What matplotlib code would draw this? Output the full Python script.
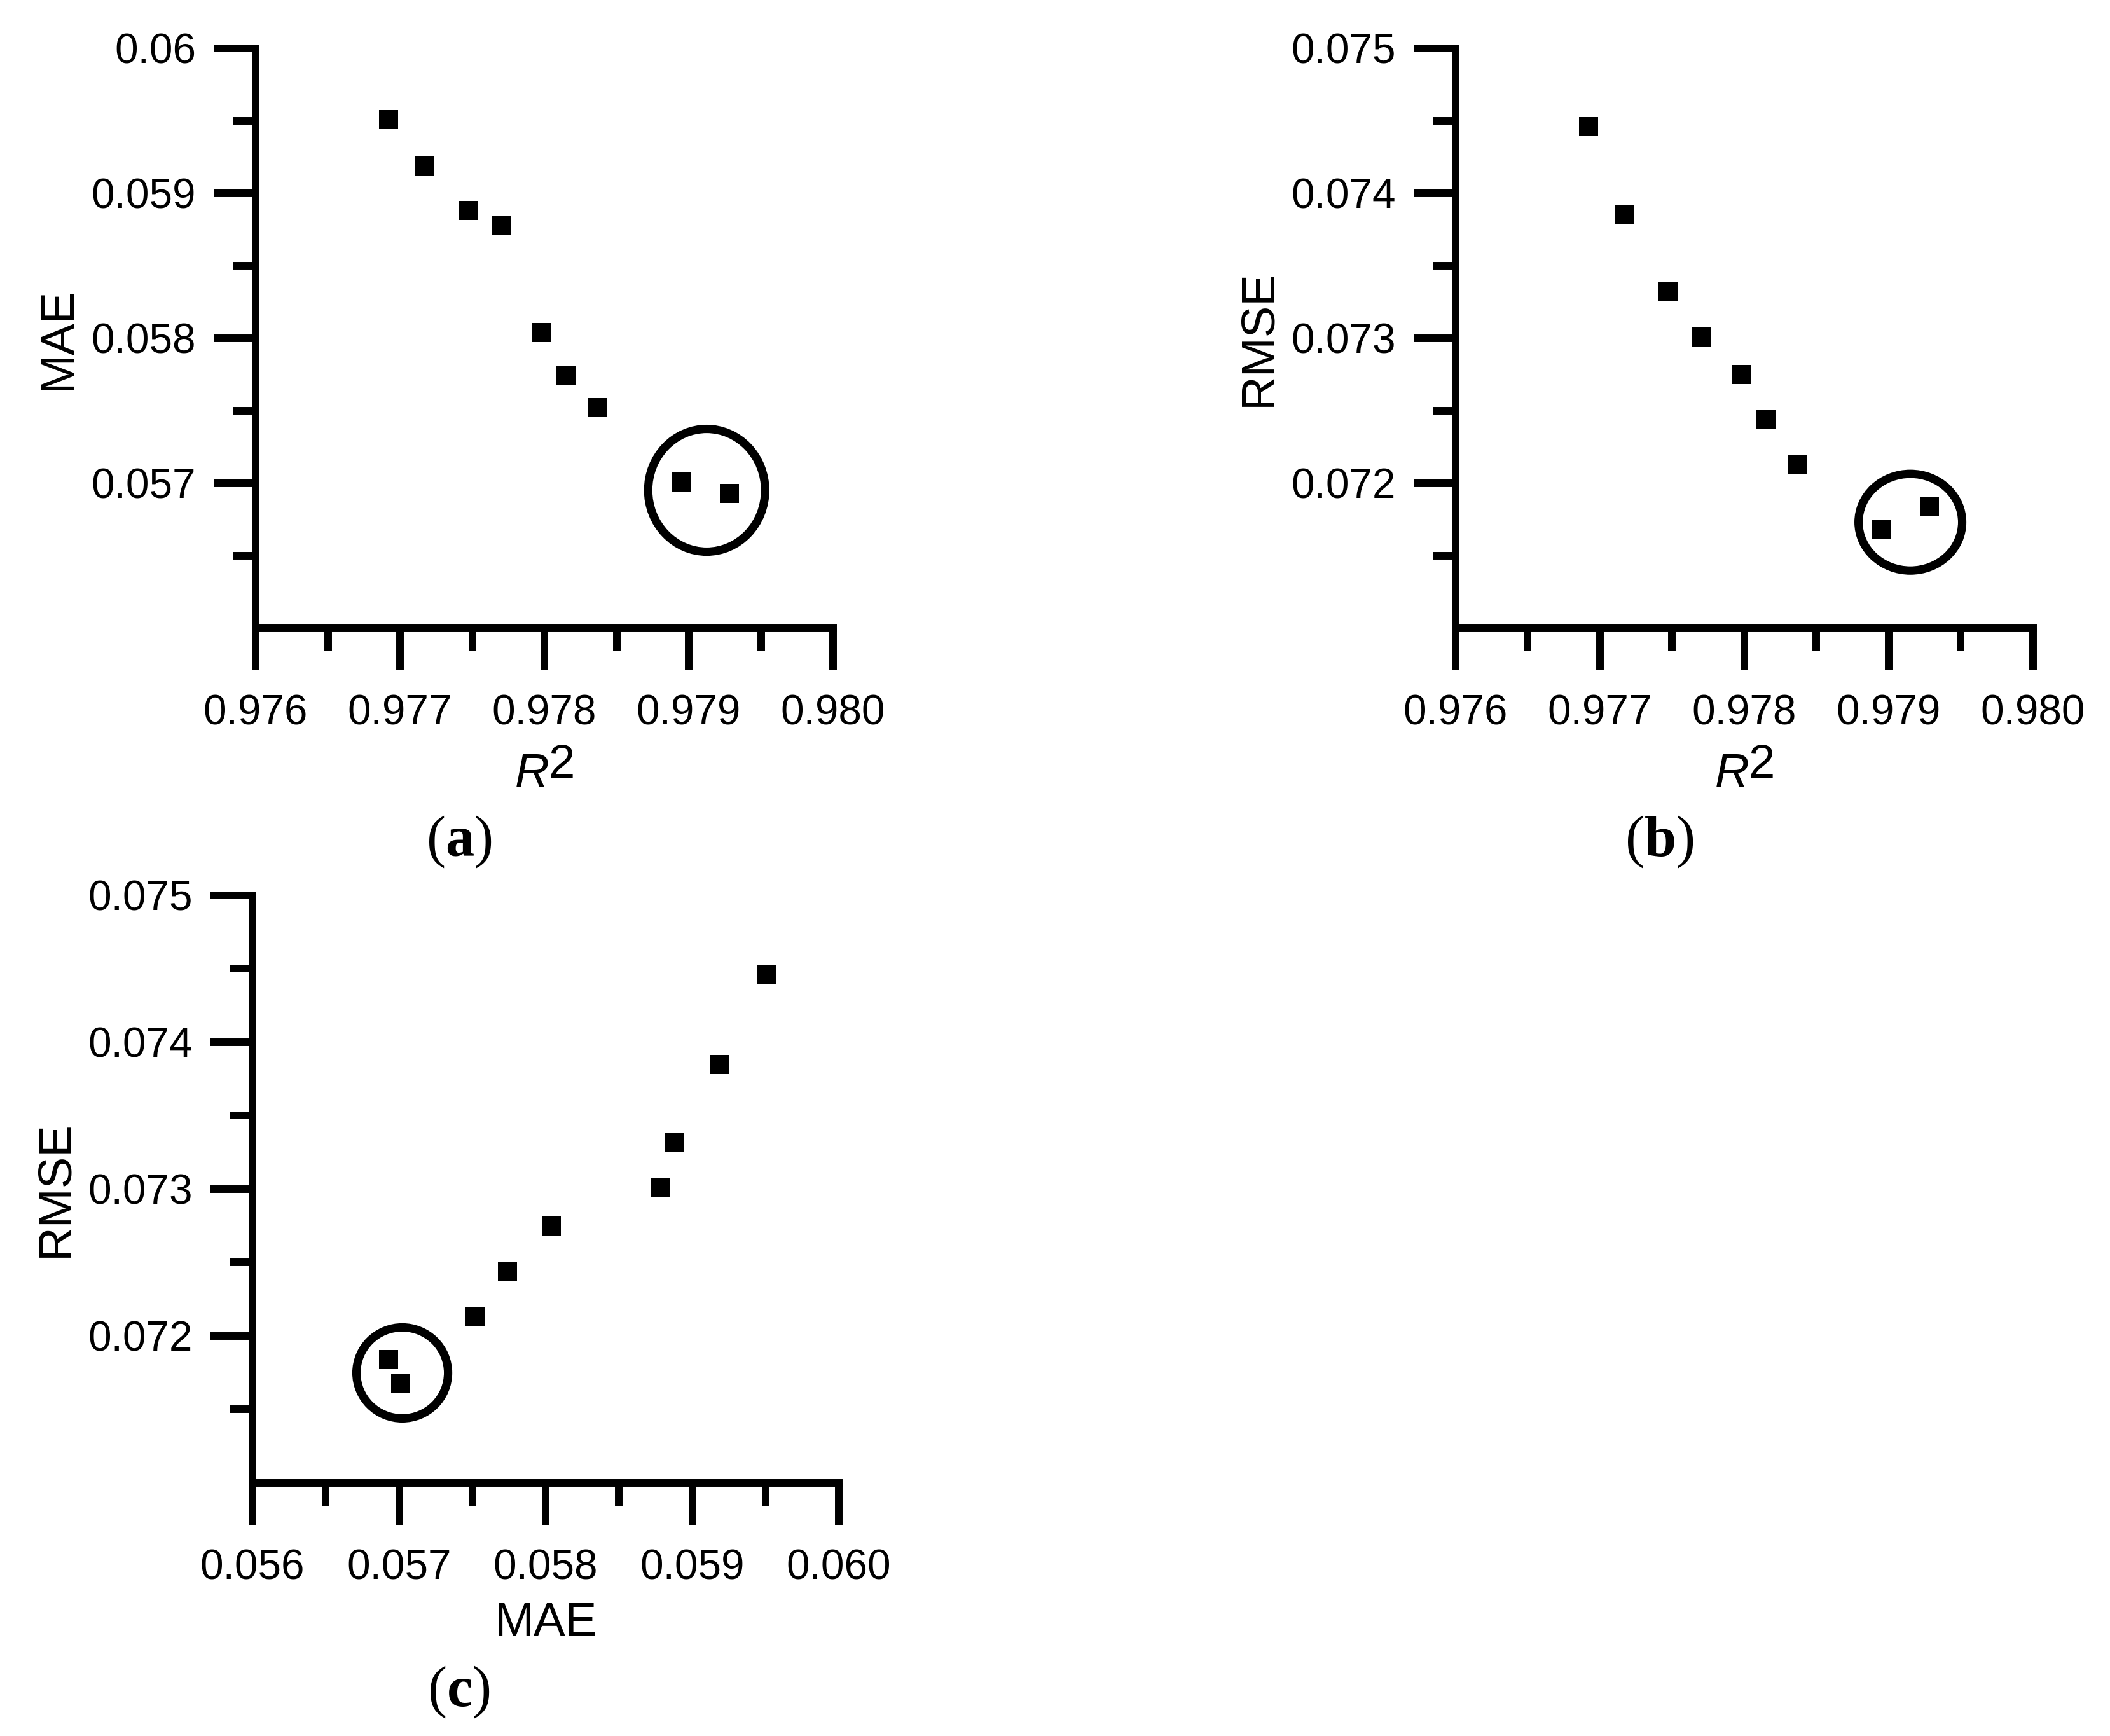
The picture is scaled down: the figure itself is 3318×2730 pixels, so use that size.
import numpy as np
import matplotlib
matplotlib.use('Agg')
from matplotlib import pyplot as plt
from matplotlib.patches import Ellipse
from matplotlib.transforms import ScaledTranslation
import matplotlib.ticker as mticker

plt.rcParams['font.family'] = ['Liberation Sans', 'DejaVu Sans']
plt.rcParams['mathtext.fontset'] = 'custom'
plt.rcParams['mathtext.rm'] = 'Liberation Serif'
plt.rcParams['mathtext.bf'] = 'Liberation Serif:bold'

# values, one entry per model setting
r2 = [0.97692, 0.97717, 0.97747, 0.97770, 0.97798, 0.97815, 0.97837, 0.97895, 0.97928]
mae = [0.05951, 0.05919, 0.05888, 0.05878, 0.05804, 0.05774, 0.05752, 0.05701, 0.05693]
rmse = [0.07446, 0.07385, 0.07332, 0.07301, 0.07275, 0.07244, 0.07213, 0.07168, 0.07184]

r2_ticks = [0.976, 0.977, 0.978, 0.979, 0.980]
mae_ticks = [0.056, 0.057, 0.058, 0.059, 0.060]
rmse_ticks = [0.071, 0.072, 0.073, 0.074, 0.075]

panel_labels = ['a', 'b', 'c']

DPI = 210
LW = 4.1          # spine / tick width in pt
FS_TICK = 22.5
FS_LABEL = 25.5
FS_PANEL = 31

fig = plt.figure(figsize=(3318 / DPI, 2730 / DPI), dpi=DPI)
fig.patch.set_facecolor('white')

ax_a = fig.add_axes([0.12116, 0.63810, 0.27366, 0.33407])
ax_b = fig.add_axes([0.68987, 0.63810, 0.27366, 0.33407])
ax_c = fig.add_axes([0.11965, 0.14579, 0.27788, 0.33846])


def style_axis(ax, xticks, yticks):
    for s in ['top', 'right']:
        ax.spines[s].set_visible(False)
    for s in ['left', 'bottom']:
        ax.spines[s].set_linewidth(LW)
    xt = np.array(xticks)
    yt = np.array(yticks)
    ax.set_xticks(xt)
    ax.set_yticks(yt[1:])
    ax.set_xticks(xt[:-1] + np.diff(xt) / 2, minor=True)
    ax.set_yticks(yt[:-1] + np.diff(yt) / 2, minor=True)
    ax.xaxis.set_major_formatter(mticker.FuncFormatter(lambda v, p: f'{v:.3f}'))
    ax.yaxis.set_major_formatter(mticker.FuncFormatter(lambda v, p: f'{v:g}'))
    ax.tick_params(which='major', direction='out', length=22.6, width=LW,
                   labelsize=FS_TICK)
    ax.tick_params(which='minor', direction='out', length=12.3, width=LW)
    ax.tick_params(axis='x', which='major', pad=13)
    ax.tick_params(axis='y', which='major', pad=9.6)
    ax.set_xlim(xt[0], xt[-1])
    ax.set_ylim(yt[0], yt[-1])


def ring(ax, x, y, w, h, dx, dy):
    # circle round the last two points, size in inches
    cx = np.mean(x[-2:])
    cy = np.mean(y[-2:])
    trans = fig.dpi_scale_trans + ScaledTranslation(cx, cy, ax.transData)
    ax.add_patch(Ellipse((dx, dy), w, h, transform=trans, fill=False,
                         ec='k', lw=4.5, clip_on=False))


def ylabel(ax, text):
    ax.annotate(text, xy=(0, 0.5), xycoords='axes fraction',
                xytext=(-94.6, 0), textcoords='offset points',
                rotation=90, ha='right', va='center', fontsize=FS_LABEL)


def r2_label(ax):
    ax.annotate('R', xy=(0.5, 0), xycoords='axes fraction',
                xytext=(2.7, -85.4), textcoords='offset points',
                ha='right', va='baseline', fontsize=FS_LABEL, style='italic')
    ax.annotate('2', xy=(0.5, 0), xycoords='axes fraction',
                xytext=(2.0, -80.6), textcoords='offset points',
                ha='left', va='baseline', fontsize=FS_LABEL)


# (a) MAE vs R2
ax_a.plot(r2, mae, 's', ms=10.6, color='k', mew=0)
style_axis(ax_a, r2_ticks, mae_ticks)
ring(ax_a, r2, mae, 0.876, 0.919, 0.01, -0.02)
ylabel(ax_a, 'MAE')
r2_label(ax_a)

# (b) RMSE vs R2
ax_b.plot(r2, rmse, 's', ms=10.6, color='k', mew=0)
style_axis(ax_b, r2_ticks, rmse_ticks)
ring(ax_b, r2, rmse, 0.776, 0.724, 0.038, -0.031)
ylabel(ax_b, 'RMSE')
r2_label(ax_b)

# (c) RMSE vs MAE
ax_c.plot(mae, rmse, 's', ms=10.6, color='k', mew=0)
style_axis(ax_c, mae_ticks, rmse_ticks)
ring(ax_c, mae, rmse, 0.686, 0.681, 0.057, -0.012)
ylabel(ax_c, 'RMSE')
ax_c.annotate('MAE', xy=(0.5, 0), xycoords='axes fraction',
              xytext=(0, -82.3), textcoords='offset points',
              ha='center', va='baseline', fontsize=FS_LABEL)

# panel letters
for (px, py), lab in zip([(0.2176, 0.5070), (0.7863, 0.5070), (0.2175, 0.0172)],
                         panel_labels):
    fig.text(px, py, '($\\mathbf{' + lab + '}$)', ha='center', va='baseline',
             fontsize=FS_PANEL, family='Liberation Serif')

fig.savefig('out.png', dpi=DPI, facecolor='white')
